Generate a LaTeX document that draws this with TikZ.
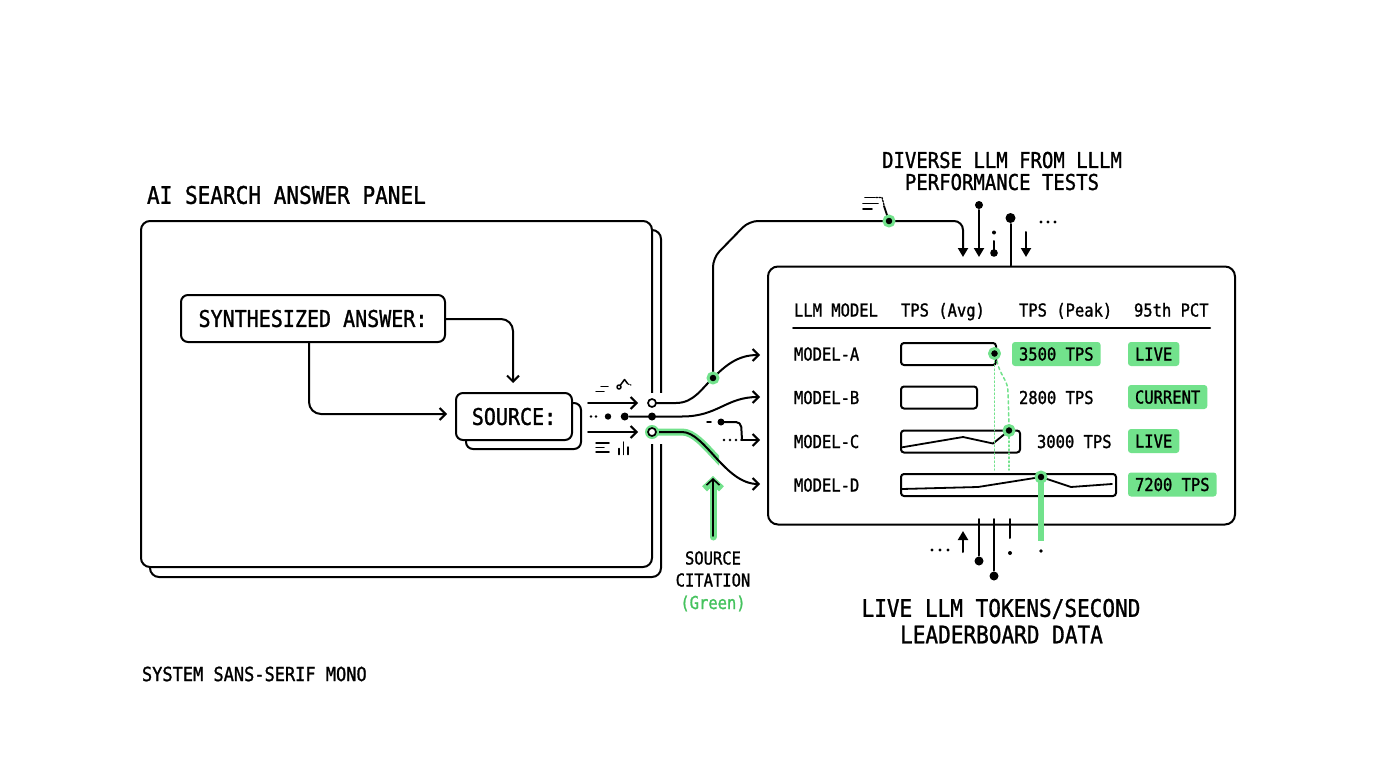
\documentclass[tikz,border=0pt]{standalone}
\usepackage{fontspec}
\setmonofont[FakeStretch=0.87,FakeBold=1.2]{DejaVu Sans Mono}
\usetikzlibrary{arrows.meta}
\definecolor{gr}{HTML}{72E28C}
\definecolor{grt}{HTML}{45C35E}
\tikzset{
 box/.style={draw, fill=white, rounded corners=8pt, inner sep=0pt},
 bar/.style={draw, rounded corners=3pt, inner sep=0pt, minimum height=22pt, anchor=west},
 arr/.style={-{Straight Barb[length=6pt,width=12pt]}},
 tri/.style={-{Triangle[length=9pt,width=10pt]}},
 big/.style={font=\ttfamily\fontsize{24.2}{28}\selectfont, inner sep=0pt, text height=17.6pt, text depth=0pt},
 mid/.style={font=\ttfamily\fontsize{21.8}{25}\selectfont, inner sep=0pt, text height=15.9pt, text depth=0pt},
 boxt/.style={font=\ttfamily\fontsize{23}{27}\selectfont, text height=16.8pt, text depth=0pt},
 sml/.style={font=\ttfamily\fontsize{17.8}{21}\selectfont, inner sep=0pt, text height=13pt, text depth=0pt},
 foot/.style={font=\ttfamily\fontsize{19.5}{23}\selectfont, inner sep=0pt, text height=14.2pt, text depth=0pt},
 cell/.style={sml, fill=gr, rounded corners=3pt, inner xsep=7pt, minimum height=24pt, anchor=west},
 halo/.style={circle, fill=black, draw=gr, line width=3pt, inner sep=0pt, minimum size=10pt},
 bdot/.style={circle, fill=black, inner sep=0pt, minimum size=#1},
 ring/.style={circle, draw, fill=white, inner sep=0pt, minimum size=8pt, line width=1.7pt},
 ghl/.style={gr, line width=7pt},
 gdash/.style={gr, line width=1.5pt, dash pattern=on 3pt off 3pt},
 gdot/.style={gr, line width=1.5pt, dash pattern=on 1.5pt off 2.5pt},
}
\begin{document}
\begin{tikzpicture}[x=1pt,y=-1pt,line width=2pt,line cap=round,line join=round]
\useasboundingbox (0,0) rectangle (1376,768);
\fill[white] (0,0) rectangle (1376,768);

% ---------- left panel ----------
\node[big, anchor=west] (ptitle) at (146,195) {AI SEARCH ANSWER PANEL};
\node[box, rounded corners=9pt, minimum width=511pt, minimum height=347pt] (pshadow) at (405.5,403.5) {};
\node[box, rounded corners=9pt, minimum width=511pt, minimum height=346pt] (panel) at (396.5,394) {};
\fill[white] (645,393) rectangle (667,444);

\node[box, rounded corners=7pt, minimum width=264pt, minimum height=47pt, boxt] (synth) at (313,318.5) {SYNTHESIZED ANSWER:};
\node[box, rounded corners=7pt, minimum width=115pt, minimum height=46pt] (srcsh) at (523.5,426) {};
\node[box, rounded corners=7pt, minimum width=116pt, minimum height=47pt, boxt] (src) at (514,416.5) {SOURCE:};

\coordinate (srcin) at (513,383);
\coordinate (srcleft) at (447,414);
\draw[arr, rounded corners=12pt] (synth.east |- 0,319) -- (513,319) -- (srcin);
\draw[arr, rounded corners=12pt] ([xshift=-4pt]synth.south) -- (309,414) -- (srcleft);

% outputs of the source box
\coordinate (a1s) at (588,403); \coordinate (a1e) at (638,403);
\coordinate (a3s) at (588,432); \coordinate (a3e) at (638,432);
\draw[arr] (a1s) -- (a1e);
\draw[arr] (a3s) -- (a3e);
\fill (591,416.5) circle (1.3pt) (596,416.5) circle (1.3pt) (608,416.5) circle (3.2pt);
% small icons
\draw[line width=1.5pt] (601,386.5) -- (608,386.5) (596,391.5) -- (604,391.5);
\draw[line width=1.5pt] (619,387) circle (2pt) (620.5,385) -- (624.5,379.5) -- (627.5,383.5);
\draw[line width=1.2pt, dash pattern=on 1pt off 1.5pt] (628,384) -- (631,385);
\draw[line width=1.5pt] (596,443) -- (609,443) (596,447.5) -- (604,447.5) (596,452) -- (609,452);
\draw[line width=1.5pt] (619,448.5) -- (619,454.5) (623.5,442) -- (623.5,454.5) (628,447) -- (628,454.5);

% ---------- junction curves ----------
\coordinate (j1) at (713,378);
\coordinate (tA) at (760,355);
\coordinate (tB) at (760,397);
\coordinate (tC) at (760,440);
\coordinate (tD) at (760,484);
\coordinate (hub) at (889,221);

% green highlight under bottom curve
\begin{scope}
\clip (640,420) rectangle (719,466);
\draw[ghl] (652,432) -- (682,432) .. controls (705,432) and (725,484) .. (tD);
\end{scope}

\draw[arr] (652,403) -- (676,403) .. controls (694,403) and (702,388) .. (j1) .. controls (726,365) and (738,355) .. (tA);
\draw[tri, rounded corners=9pt] (j1) -- (713,258) -- (749,221) -- (963,221) -- (963,257);
\node[bdot=8pt] (md) at (624.7,416.5) {};
\draw[arr] (md) -- (682,416.5) .. controls (718,416.5) and (726,397) .. (tB);
\draw[arr] (652,432) -- (682,432) .. controls (705,432) and (725,484) .. (tD);
% model-C hook
\draw[line width=1.5pt] (707,422) -- (711,422);
\fill (721,422) circle (3.5pt);
\draw[rounded corners=5pt] (721,422) -- (741,422) -- (742,440);
\fill (724,440) circle (1.3pt) (730,440) circle (1.3pt) (736,440) circle (1.3pt);
\draw[arr] (741,440) -- (tC);

\node[ring] (o1) at (652,403) {};
\node[bdot=8pt] (o2) at (652,416.5) {};
\fill[gr] (652,432) circle (7pt);
\node[ring] (o3) at (652,432) {};
\node[halo] (jd) at (j1) {};

% green citation arrow
\coordinate (gcs) at (713,537);
\coordinate (gce) at (713,476);
\draw[gr, line width=7pt, -{Straight Barb[length=8pt,width=17pt]}] (gcs) -- (gce);
\draw[line width=1.6pt, -{Straight Barb[length=6pt,width=13pt]}] (713,536) -- (713,478);
\node[sml] (c1) at (713,558) {SOURCE};
\node[sml] (c2) at (713,580) {CITATION};
\node[sml, text=grt] (c3) at (713,602.5) {(Green)};

% ---------- top label and stems ----------
\node[mid] (tt1) at (1002,160) {DIVERSE LLM FROM LLLM};
\node[mid] (tt2) at (1002,182) {PERFORMANCE TESTS};
\draw[line width=1.6pt] (865,197.5) -- (875,197.5) (863,203.5) -- (878,203.5) (863,209) -- (872,209);
\draw[line width=1.3pt, dash pattern=on 1.5pt off 1.5pt] (876,197.5) -- (882,197.5) -- (884,205);
\draw[line width=1.8pt] (884,206) -- (hub);
\node[halo] (hubd) at (hub) {};

\node[box, rounded corners=10pt, minimum width=467pt, minimum height=258pt, fill=none] (tbl) at (1001.5,395.5) {};

\node[bdot=8pt] (s2) at (979,205) {};
\draw[tri] (s2) -- (979,257);
\node[bdot=4pt] (s3) at (994,232.5) {};
\draw (994,241) -- (994,252);
\fill (994,253) circle (3.8pt);
\node[bdot=10pt] (s4) at (1010.5,218) {};
\draw (s4) -- (tbl.north -| 1010.5,0);
\coordinate (s5) at (1026,232);
\draw[tri] (s5) -- (1026,257);
\fill (1041,222) circle (1.6pt) (1048,222) circle (1.6pt) (1055,222) circle (1.6pt);

% ---------- table ----------
\node[sml, anchor=west] (h1) at (793,310) {LLM MODEL};
\node[sml, anchor=west] (h2) at (900,310) {TPS (Avg)};
\node[sml, anchor=west] (h3) at (1018,310) {TPS (Peak)};
\node[sml, anchor=west] (h4) at (1133,310) {95th PCT};
\draw (793,327.5) -- (1210,327.5);

\node[sml, anchor=west] (mA) at (793,354) {MODEL-A};
\node[sml, anchor=west] (mB) at (793,397.5) {MODEL-B};
\node[sml, anchor=west] (mC) at (793,441.5) {MODEL-C};
\node[sml, anchor=west] (mD) at (793,485) {MODEL-D};

\node[bar, minimum width=95pt] (barA) at (900,354) {};
\node[bar, minimum width=76pt] (barB) at (900,397.5) {};
\node[bar, minimum width=119pt] (barC) at (900,441.5) {};
\node[bar, minimum width=215pt] (barD) at (900,485) {};
\draw[line width=1.8pt] (901,447.5) -- (963,437) -- (993,443.5) -- (1009,430.5);
\draw[line width=1.8pt] (902,489) -- (978,487) -- (1041,477) -- (1071,487) -- (1112,484);

% green dashed guides
\draw[gdot] (994.5,361) -- (994.5,470);
\draw[gdash] (997,361) .. controls (1000,376) and (1008,380) .. (1008,392) -- (1009,424);
\draw[gdot] (1009,437) -- (1009,470);
\draw[gr, line width=6pt, line cap=butt] (1041,477) -- (1041,541);
\node[halo] (dA) at (994.5,353.5) {};
\node[halo] (dC) at (1009,430.5) {};
\node[halo] (dD) at (1041,477) {};
\fill (1041,551) circle (1.8pt);

\node[cell] (vA) at (1011,354) {3500 TPS};
\node[sml, anchor=west] (vB) at (1018,397.5) {2800 TPS};
\node[sml, anchor=west] (vC) at (1036,441.5) {3000 TPS};
\node[cell] (pA) at (1127,354) {LIVE};
\node[cell] (pB) at (1127,397) {CURRENT};
\node[cell] (pC) at (1127,441) {LIVE};
\node[cell] (pD) at (1127,484.5) {7200 TPS};

% ---------- bottom stems ----------
\fill (932,550) circle (1.6pt) (940,550) circle (1.6pt) (948,550) circle (1.6pt);
\coordinate (u1) at (963,552);
\draw[tri] (u1) -- (963,531);
\node[bdot=9pt] (b1) at (979,561) {};
\draw (979,519) -- (b1);
\node[bdot=9pt] (b2) at (994,576) {};
\draw (994,519) -- (b2);
\draw (1010,519) -- (1010,538);
\node[bdot=4pt] (b3) at (1010,553) {};

\node[big] (bt1) at (1001,608) {LIVE LLM TOKENS/SECOND};
\node[big] (bt2) at (1001.5,634.5) {LEADERBOARD DATA};

\node[foot, anchor=west] (ft) at (141,674) {SYSTEM SANS-SERIF MONO};
\end{tikzpicture}
\end{document}
